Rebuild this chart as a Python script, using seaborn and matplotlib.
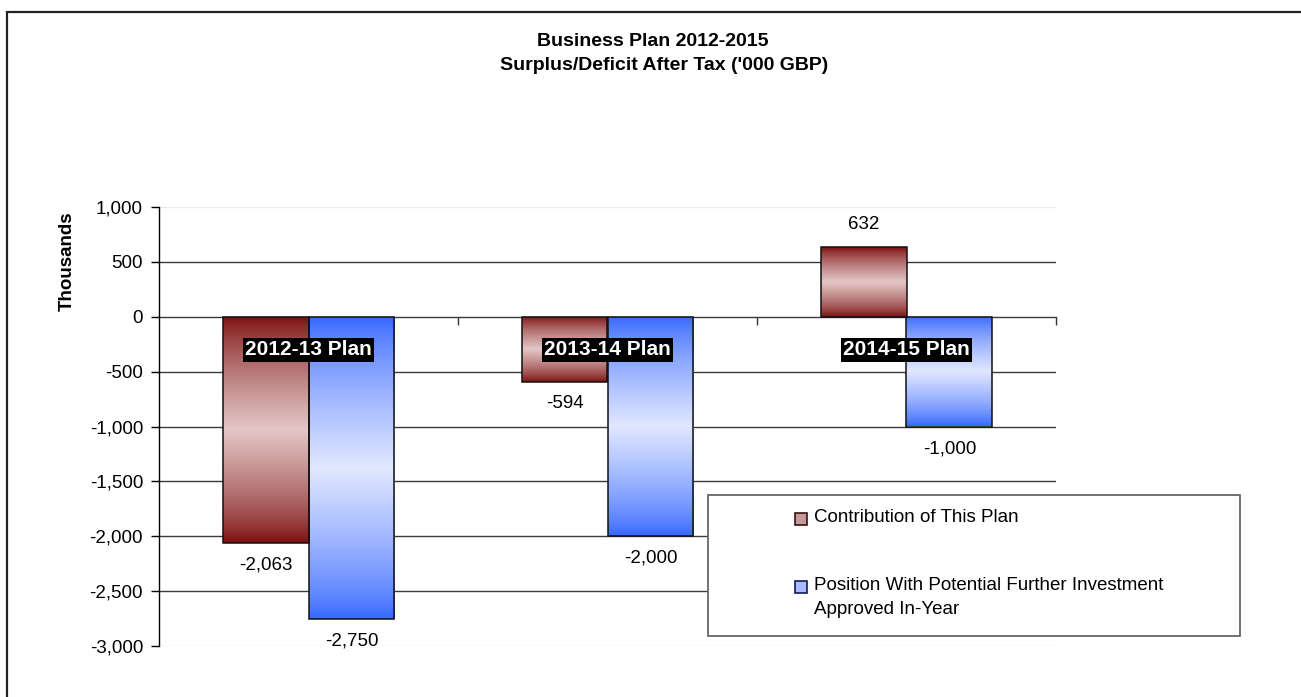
import numpy as np
import pandas as pd
import matplotlib
matplotlib.use("Agg")
import matplotlib.pyplot as plt
from matplotlib.patches import Rectangle
from matplotlib.colors import to_rgb
import seaborn as sns

# ---- data ----
periods = ["2012-13 Plan", "2013-14 Plan", "2014-15 Plan"]
series = ["Contribution of This Plan",
          "Position With Potential Further Investment\nApproved In-Year"]
contribution = [-2063, -594, 632]
position = [-2750, -2000, -1000]
yticks = [-3000, -2500, -2000, -1500, -1000, -500, 0, 500, 1000]
title_lines = ["Business Plan 2012-2015", "Surplus/Deficit After Tax ('000 GBP)"]
y_label = "Thousands"

dark_cols = ["#7a0a0a", "#3366ff"]
light_cols = ["#e3c6c6", "#e1e7ff"]
swatch_cols = ["#c79a9a", "#aabcff"]

sns.set_style("white")
plt.rcParams["font.family"] = ["Liberation Sans", "DejaVu Sans"]
plt.rcParams["text.color"] = "black"
plt.rcParams["axes.labelcolor"] = "black"
plt.rcParams["xtick.color"] = "black"
plt.rcParams["ytick.color"] = "black"

W, H = 1301, 697
fig = plt.figure(figsize=(W / 100, H / 100), dpi=100)


def fx(px):
    return px / W


def fy(py):
    return 1 - py / H


ax = fig.add_axes([fx(159), fy(646), (1056 - 159) / W, (646 - 207) / H])

df = pd.DataFrame({
    "Period": periods * 2,
    "Series": [series[0]] * 3 + [series[1]] * 3,
    "Value": contribution + position,
})

sns.barplot(data=df, x="Period", y="Value", hue="Series", order=periods,
            hue_order=series, palette=dark_cols, width=0.575, gap=0,
            edgecolor="#111111", linewidth=1.1, legend=False, ax=ax,
            errorbar=None)


def grad_img(dark, light, n=256, power=0.75):
    t = np.linspace(0, 1, n)
    w = (1 - np.abs(2 * t - 1)) ** power
    d = np.array(to_rgb(dark))
    l = np.array(to_rgb(light))
    rgb = d[None, :] * (1 - w[:, None]) + l[None, :] * w[:, None]
    return rgb[:, None, :]


for si, cont in enumerate(ax.containers):
    img = grad_img(dark_cols[si], light_cols[si])
    for bar in cont:
        x0 = bar.get_x()
        x1 = x0 + bar.get_width()
        y0 = min(bar.get_y(), bar.get_y() + bar.get_height())
        y1 = max(bar.get_y(), bar.get_y() + bar.get_height())
        im = ax.imshow(img, extent=(x0, x1, y0, y1), origin="lower",
                       aspect="auto", zorder=2, interpolation="bilinear")
        im.set_clip_path(bar)
        bar.set_facecolor("none")
        bar.set_zorder(3)
        val = bar.get_y() + bar.get_height()
        off = 23 if val > 0 else -22
        ax.annotate(f"{val:,.0f}", xy=((x0 + x1) / 2, val),
                    xytext=(0, off), textcoords="offset pixels",
                    ha="center", va="center", fontsize=13.5, color="black",
                    zorder=5)

ax.set_xlim(-0.5, 2.5)
ax.set_ylim(-3000, 1000)
ax.set_yticks(yticks)
ax.set_yticklabels([f"{v:,}" for v in yticks])
ax.set_xticks([0.5, 1.5, 2.5])
ax.set_xticklabels([])
ax.set_xlabel("")
ax.set_ylabel("")

ax.tick_params(axis="y", which="both", direction="out", length=6, width=1,
               pad=5.5, labelsize=13.5, left=True, color="black",
               labelcolor="black")
ax.tick_params(axis="x", which="both", direction="out", length=6, width=1,
               bottom=True, color="#333333")

ax.grid(False)
for v in yticks:
    if v in (yticks[0], yticks[-1]):
        ax.axhline(v, color="#ececec", lw=1, zorder=1)
    elif v != 0:
        ax.axhline(v, color="#3a3a3a", lw=1, zorder=1)

for s in ["top", "right"]:
    ax.spines[s].set_visible(False)
ax.spines["left"].set_color("black")
ax.spines["left"].set_linewidth(1)
ax.spines["bottom"].set_position(("data", 0))
ax.spines["bottom"].set_color("#3a3a3a")
ax.spines["bottom"].set_linewidth(1)
ax.spines["bottom"].set_zorder(1.5)

# category labels (white on black) near the zero axis
for i, p in enumerate(periods):
    ax.annotate(p, xy=(i, 0), xytext=(0, -33), textcoords="offset pixels",
                ha="center", va="center", fontsize=15, fontweight="bold",
                color="white", zorder=6,
                bbox=dict(boxstyle="square,pad=0.12", fc="black", ec="none"))

# title
fig.text(fx(653), fy(42), title_lines[0], ha="center", va="center",
         fontsize=14, fontweight="bold", color="black")
fig.text(fx(664), fy(66), title_lines[1], ha="center", va="center",
         fontsize=14, fontweight="bold", color="black")

# y label
fig.text(fx(67), fy(261), y_label, ha="center", va="center", rotation=90,
         fontsize=13.5, fontweight="bold", color="black")

# legend box
fig.patches.append(Rectangle((fx(708), fy(636)), (1240 - 708) / W,
                             (636 - 495) / H, transform=fig.transFigure,
                             fc="white", ec="#666666", lw=1.3, zorder=10))
legend_rows = [519, 587]
edge_cols = ["#3a1010", "#101a55"]
for i, sy in enumerate(legend_rows):
    fig.patches.append(Rectangle((fx(795), fy(sy + 6)), 12 / W, 12 / H,
                                 transform=fig.transFigure,
                                 fc=swatch_cols[i], ec=edge_cols[i], lw=1.2,
                                 zorder=11))
    for k, line in enumerate(series[i].split("\n")):
        fig.text(fx(814), fy(sy - 1 + 23 * k), line, ha="left", va="center",
                 fontsize=13.5, zorder=11, color="black")

# outer border
fig.patches.append(Rectangle((fx(7), fy(720)), 1320 / W, (720 - 12) / H,
                             transform=fig.transFigure, fill=False,
                             ec="#222222", lw=1.6, zorder=12))

fig.savefig("out.png", dpi=100)
